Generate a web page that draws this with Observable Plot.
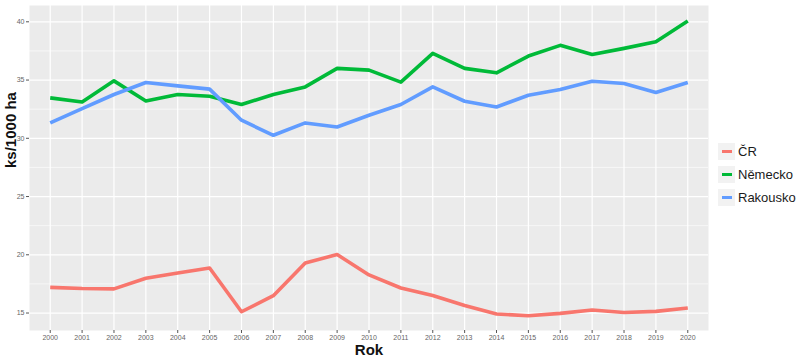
<!DOCTYPE html>
<html><head><meta charset="utf-8">
<script src="https://cdn.jsdelivr.net/npm/d3@7"></script>
<script src="https://cdn.jsdelivr.net/npm/@observablehq/plot@0.6"></script>
<style>
body{margin:0;background:#fff;font-family:"Liberation Sans",Arial,sans-serif}
#wrap{position:relative;width:808px;height:364px}
#legend{position:absolute;left:718px;top:140px;font-size:13px;color:#1a1a1a}
#legend .row{display:flex;align-items:center;height:23px}
#legend .key{width:17px;height:17px;background:#f2f2f2;display:flex;align-items:center;justify-content:center;margin-right:3px}
#legend .key span{display:block;width:10px;height:3px}
</style>
</head><body>
<div id="wrap"></div>
<script>
const years = [2000,2001,2002,2003,2004,2005,2006,2007,2008,2009,2010,2011,2012,2013,2014,2015,2016,2017,2018,2019,2020];
const cr       = [17.2,17.1,17.07,17.98,18.44,18.87,15.11,16.49,19.3,20.02,18.27,17.15,16.5,15.65,14.91,14.77,14.97,15.26,15.05,15.14,15.43];
const nemecko  = [33.47,33.12,34.93,33.21,33.76,33.61,32.9,33.76,34.41,36.0,35.85,34.82,37.29,36.0,35.62,37.06,37.98,37.2,37.72,38.29,40.07];
const rakousko = [31.32,32.55,33.76,34.79,34.5,34.22,31.55,30.26,31.32,30.97,31.98,32.9,34.41,33.18,32.69,33.7,34.19,34.9,34.7,33.93,34.79];
const seriesNames = ["ČR","Německo","Rakousko"];
const seriesColors = ["#F8766D","#00BA38","#619CFF"];
const yTicks = [15,20,25,30,35,40];
const yLabel = "ks/1000 ha";
const xLabel = "Rok";

const valuesBySeries = [cr, nemecko, rakousko];
const data = [];
seriesNames.forEach((s,i)=>years.forEach((y,j)=>data.push({series:s, year:y, value:valuesBySeries[i][j]})));
const minorTicks = yTicks.slice(0,-1).map((t,i)=>(t+yTicks[i+1])/2).concat([yTicks[0]-2.5, yTicks[yTicks.length-1]+2.5]);

const chart = Plot.plot({
  width: 808, height: 364,
  marginLeft: 29, marginRight: 100, marginTop: 5, marginBottom: 34,
  style: {fontFamily: "Liberation Sans, Arial, sans-serif", background: "transparent"},
  x: {type: "linear", domain: [years[0]-0.65, years[years.length-1]+0.65]},
  y: {domain: [13.5, 41.4]},
  color: {domain: seriesNames, range: seriesColors},
  marks: [
    Plot.frame({fill: "#EBEBEB", stroke: null}),
    Plot.ruleY(minorTicks, {stroke: "#fff", strokeWidth: 0.6, clip: true}),
    Plot.gridY({ticks: yTicks, stroke: "#fff", strokeOpacity: 1, strokeWidth: 1.2}),
    Plot.gridX({ticks: years, stroke: "#fff", strokeOpacity: 1, strokeWidth: 1.2}),
    Plot.axisY({ticks: yTicks, tickSize: 3, tickPadding: 2, fontSize: 7, color: "#666", stroke: "#555", label: null}),
    Plot.axisX({ticks: years, tickFormat: "d", tickSize: 3, tickPadding: 2, fontSize: 7, color: "#666", stroke: "#555", label: null}),
    Plot.line(data, {x: "year", y: "value", z: "series", stroke: "series", strokeWidth: 3.6, strokeLinejoin: "round", strokeLinecap: "butt"}),
    Plot.text([yLabel], {frameAnchor: "left", dx: -18, rotate: -90, fontSize: 15, fontWeight: "bold", fill: "#111"}),
    Plot.text([xLabel], {frameAnchor: "bottom", dy: 24, fontSize: 15, fontWeight: "bold", fill: "#111"})
  ]
});
const wrap = document.getElementById("wrap");
wrap.appendChild(chart);
const legend = document.createElement("div");
legend.id = "legend";
seriesNames.forEach((s,i)=>{
  const row = document.createElement("div"); row.className = "row";
  const key = document.createElement("div"); key.className = "key";
  const line = document.createElement("span"); line.style.background = seriesColors[i];
  key.appendChild(line);
  const lab = document.createElement("div"); lab.textContent = s;
  row.appendChild(key); row.appendChild(lab);
  legend.appendChild(row);
});
wrap.appendChild(legend);
</script>
</body></html>
